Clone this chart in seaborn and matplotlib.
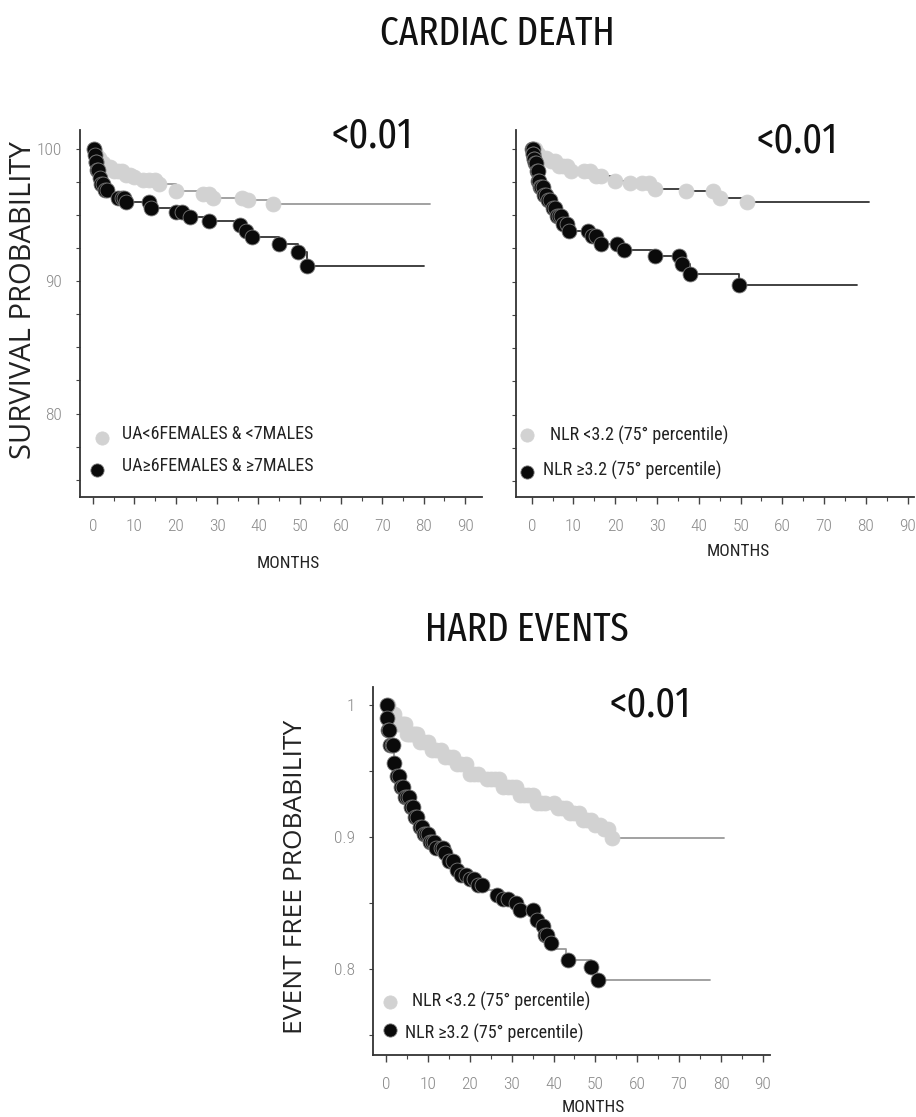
import numpy as np
import pandas as pd
import matplotlib
matplotlib.use("Agg")
import matplotlib.pyplot as plt
from matplotlib.ticker import MultipleLocator
import seaborn as sns

# ---- data ----
# cardiac death, uric acid groups (survival %)
ua_low_t = [0, 0.5, 1, 2, 3, 5, 8, 10, 12, 16, 20, 26, 29, 37, 43.6]
ua_low_s = [100, 99.6, 99.3, 98.9, 98.6, 98.3, 98.0, 97.85, 97.6, 97.3, 96.8, 96.6, 96.3, 96.1, 95.8]
ua_low_end = 81.5
ua_low_cens = [0.3, 0.6, 1, 1.5, 2, 2.5, 3, 3.5, 4, 5, 6, 7, 8, 9, 10, 12, 13.5, 15, 16,
               20, 26.5, 28, 29, 36, 37.5, 43.6]

ua_high_t = [0, 0.3, 0.6, 1, 1.5, 2, 3, 4, 6, 8, 14, 20, 22, 23.5, 28, 35.5, 37, 38.5, 45, 49.5, 51.8]
ua_high_s = [100, 99.5, 99, 98.4, 97.8, 97.3, 96.9, 96.6, 96.3, 95.95, 95.5, 95.2, 95.0, 94.8,
             94.56, 94.25, 93.8, 93.3, 92.8, 92.2, 91.14]
ua_high_end = 80
ua_high_cens = [0.2, 0.4, 0.6, 0.8, 1, 1.3, 1.6, 2, 2.5, 3, 3.5, 6, 7, 7.5, 8, 13.5, 14,
                20, 21.5, 23.5, 28, 35.5, 37, 38.5, 45, 49.5, 51.8]

# cardiac death, NLR groups (survival %)
nlr_low_t = [0, 1, 2, 3.6, 6, 9, 14.8, 19.5, 23, 29.5, 37, 44, 51.5]
nlr_low_s = [100, 99.6, 99.3, 99.1, 98.7, 98.35, 97.97, 97.6, 97.4, 96.96, 96.8, 96.3, 95.95]
nlr_low_end = 80.7
nlr_low_cens = [0.3, 0.8, 1.5, 2.5, 3.5, 4.5, 5.5, 6.5, 7.5, 8.5, 9.5, 12.5, 14, 15.5, 16.5,
                20, 23.5, 26.5, 28, 29.5, 37, 43.5, 45, 51.5]

nlr_high_t = [0, 0.3, 0.5, 0.8, 1.2, 1.6, 2, 2.8, 3.6, 4.5, 6, 7.5, 9, 14, 16.4, 22, 29.5, 35.5, 38, 49.5]
nlr_high_s = [100, 99.6, 99.2, 98.9, 98.3, 97.6, 97.1, 96.5, 96.1, 95.5, 94.9, 94.3, 93.8, 93.4,
              92.8, 92.4, 91.9, 91.3, 90.6, 89.75]
nlr_high_end = 77.8
nlr_high_cens = [0.1, 0.2, 0.3, 0.4, 0.5, 0.6, 0.8, 1, 1.2, 1.4, 1.6, 1.8, 2, 2.3, 2.6, 3, 3.4,
                 3.8, 4.3, 5, 5.5, 6, 6.5, 7, 7.5, 8.5, 9, 13.5, 14.5, 15.5, 16.5, 20.5, 22,
                 29.5, 35.3, 36, 38, 49.5]

# hard events, NLR groups (event free probability)
he_low_t = [0, 1, 2.5, 5, 8, 11, 13.7, 17, 20, 24, 28, 32, 36, 40.8, 44, 47, 50, 52, 54]
he_low_s = [1, 0.993, 0.986, 0.978, 0.972, 0.966, 0.961, 0.955, 0.948, 0.944, 0.938, 0.932,
            0.926, 0.922, 0.918, 0.913, 0.909, 0.906, 0.8995]
he_low_end = 80.6
he_low_cens = [0.5, 1, 1.5, 2, 2.5, 3, 3.5, 4, 4.5, 5, 5.5, 6, 6.5, 7, 7.5, 8, 9, 10, 11, 12,
               13, 14, 15, 16, 17, 18, 19, 20, 21, 22, 24, 25, 26, 27, 28, 29, 30, 31, 32,
               33, 34, 35, 36, 37, 38, 40, 41, 42, 43, 44, 45, 46, 47, 48, 49, 50, 51, 52, 53, 54]

he_high_t = [0, 0.2, 0.5, 1, 1.8, 2.5, 3.3, 4.5, 5.7, 7, 8, 9, 10.5, 12, 13.7, 15, 16.9, 18,
             20, 21.5, 23.2, 26.4, 28, 29.6, 32, 35.2, 36.5, 38, 39, 40, 43, 49, 50.3]
he_high_s = [1, 0.99, 0.981, 0.97, 0.956, 0.946, 0.938, 0.93, 0.923, 0.915, 0.908, 0.902,
             0.896, 0.892, 0.888, 0.882, 0.875, 0.871, 0.868, 0.864, 0.860, 0.856, 0.853,
             0.850, 0.845, 0.837, 0.833, 0.826, 0.82, 0.815, 0.807, 0.802, 0.792]
he_high_end = 77.4
he_high_cens = [0.1, 0.3, 0.5, 0.8, 1, 1.3, 1.6, 2, 2.5, 3, 3.5, 4, 4.5, 5, 5.5, 6, 6.5, 7,
                7.5, 8, 8.5, 9, 9.5, 10, 10.5, 11, 11.5, 12, 13, 13.5, 14, 15, 16, 17, 18, 19,
                20, 21, 22, 23, 26.5, 28, 29, 31, 32, 35, 36, 37.5, 38, 38.5, 39.5, 43.5, 49, 50.5]

ua_labels = ["UA<6FEMALES & <7MALES", "UA\u22656FEMALES & \u22657MALES"]
nlr_labels = ["NLR <3.2 (75\u00b0 percentile)", "NLR \u22653.2 (75\u00b0 percentile)"]
p_text = "<0.01"

GRAY_DOT = "#d2d2d2"
GRAY_LINE = "#9a9a9a"
BLACK_DOT = "#0a0a0a"
BLACK_LINE = "#333333"
TICK_COL = "#8a8a8a"

sns.set_theme(style="ticks")
plt.rcParams["font.family"] = ["Roboto Condensed", "DejaVu Sans"]
COND = ["Fira Sans Extra Condensed", "Roboto Condensed", "DejaVu Sans"]
WIDE = ["Open Sans", "DejaVu Sans"]

W, H = 916, 1117
fig = plt.figure(figsize=(W / 100, H / 100), dpi=100)


def fx(x, y):
    # pixel position -> figure fraction
    return x / W, 1 - y / H


def km(ax, t, s, end, cens, dot, line):
    df = pd.DataFrame({"t": list(t) + [end], "s": list(s) + [s[-1]]})
    sns.lineplot(data=df, x="t", y="s", drawstyle="steps-post", estimator=None, sort=False,
                 color=line, lw=1.3, ax=ax, zorder=2)
    tt = np.asarray(t)
    idx = np.searchsorted(tt, np.asarray(cens), side="right") - 1
    cy = np.asarray(s)[idx]
    sns.scatterplot(x=cens, y=cy, color=dot, s=115, edgecolor="#777777" if dot == BLACK_DOT else dot,
                    linewidth=0.6, ax=ax, zorder=3)


def style(ax, xlim, ylim, ymajor, yminor, ylabels):
    ax.set_xlim(*xlim)
    ax.set_ylim(*ylim)
    ax.xaxis.set_major_locator(MultipleLocator(10))
    ax.xaxis.set_minor_locator(MultipleLocator(5))
    ax.set_xticks(range(0, 100, 10))
    ax.set_yticks(ymajor)
    ax.yaxis.set_minor_locator(MultipleLocator(yminor))
    if ylabels is None:
        ax.set_yticklabels([])
    else:
        ax.set_yticklabels(ylabels)
    ax.tick_params(axis="x", which="major", length=5, width=1, color="#444444", pad=11,
                   labelsize=12.5, labelcolor=TICK_COL)
    ax.tick_params(axis="x", which="minor", length=3, width=0.8, color="#444444")
    ax.tick_params(axis="y", which="both", length=3, width=0.8, color="#444444", pad=10,
                   labelsize=12.5, labelcolor=TICK_COL)
    for lab in ax.get_xticklabels() + ax.get_yticklabels():
        lab.set_fontweight("light")
    sns.despine(ax=ax)
    for sp in ("left", "bottom"):
        ax.spines[sp].set_color("#333333")
        ax.spines[sp].set_linewidth(1.3)
    ax.set_xlabel("")
    ax.set_ylabel("")


def legend(items):
    for (x, y, col), (tx, ty, txt) in items:
        px_, py_ = fx(x, y)
        fig.add_artist(plt.Line2D([px_], [py_], marker="o", markersize=9.5, color=col,
                                  markeredgecolor="#777777" if col == BLACK_DOT else col,
                                  markeredgewidth=0.6, linestyle="none",
                                  transform=fig.transFigure))
        a, b = fx(tx, ty)
        fig.text(a, b, txt, fontsize=13, ha="left", va="center", color="#222222")


# panel A
axA = fig.add_axes([80 / W, 1 - 497 / H, 402 / W, 367 / H])
km(axA, ua_low_t, ua_low_s, ua_low_end, ua_low_cens, GRAY_DOT, GRAY_LINE)
km(axA, ua_high_t, ua_high_s, ua_high_end, ua_high_cens, BLACK_DOT, BLACK_LINE)
style(axA, (-3.15, 94.1), (73.7, 101.4), [80, 90, 100], 2.5, ["80", "90", "100"])

# panel B
axB = fig.add_axes([515.7 / W, 1 - 497 / H, 398.3 / W, 367 / H])
km(axB, nlr_low_t, nlr_low_s, nlr_low_end, nlr_low_cens, GRAY_DOT, BLACK_LINE)
km(axB, nlr_high_t, nlr_high_s, nlr_high_end, nlr_high_cens, BLACK_DOT, BLACK_LINE)
style(axB, (-3.83, 91.5), (73.8, 101.4), [80, 90, 100], 2.5, None)

# panel C
axC = fig.add_axes([372.7 / W, 1 - 1055 / H, 397.3 / W, 368.3 / H])
km(axC, he_low_t, he_low_s, he_low_end, he_low_cens, GRAY_DOT, GRAY_LINE)
km(axC, he_high_t, he_high_s, he_high_end, he_high_cens, BLACK_DOT, GRAY_LINE)
style(axC, (-3.2, 91.7), (0.735, 1.0139), [0.8, 0.9, 1.0], 0.05, ["0.8", "0.9", "1"])

# titles, p values, axis labels
fig.text(*fx(497, 34), "CARDIAC DEATH", family=COND, fontweight="normal", fontsize=29,
         ha="center", va="center", color="#111111")
fig.text(*fx(527, 630), "HARD EVENTS", family=COND, fontweight="normal", fontsize=29,
         ha="center", va="center", color="#111111")
for x, y in [(372, 136), (797, 141), (650, 705)]:
    fig.text(*fx(x, y), p_text, family=COND, fontweight="normal", fontsize=30,
             ha="center", va="center", color="#111111")
fig.text(*fx(24, 300), "SURVIVAL PROBABILITY", family=WIDE, fontweight="normal", fontsize=21,
         rotation=90, ha="center", va="center", color="#222222")
fig.text(*fx(296, 877), "EVENT FREE PROBABILITY", family=WIDE, fontweight="normal", fontsize=19,
         rotation=90, ha="center", va="center", color="#222222")
for x, y in [(288, 563), (738, 552), (593, 1107)]:
    fig.text(*fx(x, y), "MONTHS", fontsize=12.5, ha="center", va="center", color="#222222")

legend([((102, 438, GRAY_DOT), (122, 434, ua_labels[0])),
        ((97, 470, BLACK_DOT), (122, 466, ua_labels[1])),
        ((527, 435, GRAY_DOT), (550, 435, nlr_labels[0])),
        ((527, 472, BLACK_DOT), (543, 470, nlr_labels[1])),
        ((390, 1002, GRAY_DOT), (412, 1001, nlr_labels[0])),
        ((390, 1030, BLACK_DOT), (405, 1033, nlr_labels[1]))])

fig.savefig("out.png", dpi=100)
